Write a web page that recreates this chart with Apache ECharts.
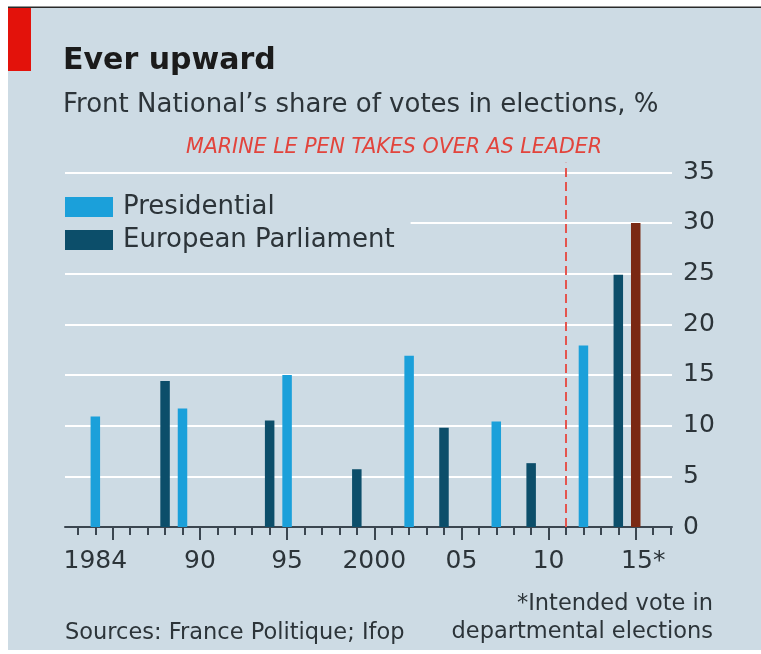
<!DOCTYPE html>
<html><head><meta charset="utf-8">
<script src="https://cdn.jsdelivr.net/npm/echarts@6/dist/echarts.min.js"></script>
<style>html,body{margin:0;padding:0;background:#fff}#c{width:761px;height:654px}</style>
</head><body><div id="c"></div>
<script>
// ---- data ----
const presYears = [1984, 1989, 1995, 2002, 2007, 2012];
const presValues = [10.9, 11.7, 15.0, 16.9, 10.4, 17.9];
const euroYears = [1988, 1994, 1999, 2004, 2009, 2014];
const euroValues = [14.4, 10.5, 5.7, 9.8, 6.3, 24.9];
const deptYears = [2015];
const deptValues = [30.0];
const leaderYear = 2011;
const yTicks = [0, 5, 10, 15, 20, 25, 30, 35];
const xLabelYears = [1984, 1990, 1995, 2000, 2005, 2010, 2015];
const xLabelText = ['1984', '90', '95', '2000', '05', '10', '15*'];
const minorTickYears = [1983,1984,1985,1986,1987,1988,1989,1990,1991,1992,1993,1994,1995,1996,1997,1998,1999,2000,2001,2002,2003,2004,2005,2006,2007,2008,2009,2010,2011,2012,2013,2014,2015,2016,2017];
const majorTickYears = [1985, 1990, 1995, 2000, 2005, 2010, 2015];

// ---- styles ----
const FONT = 'DejaVu Sans';
const BG = '#cddbe4';
const LIGHT = '#1ba0da';
const DARK = '#0c4e6a';
const BROWN = '#7a2914';
const AX = '#3b4650';
const TXT = '#2c3439';

const pair = (xs, vs) => xs.map((x, i) => [x, vs[i]]);

const chart = echarts.init(document.getElementById('c'), null, {renderer: 'canvas'});
chart.setOption({
  animation: false,
  backgroundColor: '#ffffff',
  textStyle: {fontFamily: FONT},
  grid: {left: 65, right: 89, top: 162.7, bottom: 127},
  xAxis: [{
    type: 'value', min: 1982.26, max: 2017.08,
    axisLine: {show: true, onZero: false, lineStyle: {color: AX, width: 2}},
    axisTick: {show: true, customValues: minorTickYears, length: 8, lineStyle: {color: AX, width: 2}},
    axisLabel: {
      show: true, customValues: xLabelYears, margin: 22, fontSize: 25, color: TXT, fontFamily: FONT,
      formatter: function (v) {
        const i = xLabelYears.indexOf(Math.round(v));
        const t = i >= 0 ? xLabelText[i] : '';
        return t.indexOf('*') >= 0 ? '{p|}' + t : t;
      },
      rich: {p: {width: 15}}
    },
    splitLine: {show: false}
  }, {
    type: 'value', min: 1982.26, max: 2017.08, position: 'bottom', gridIndex: 0,
    axisLine: {show: false, onZero: false},
    axisTick: {show: true, customValues: majorTickYears, length: 13, lineStyle: {color: AX, width: 2}},
    axisLabel: {show: false},
    splitLine: {show: false}
  }],
  yAxis: {
    type: 'value', position: 'right', min: 0, max: 35.95, interval: 5,
    axisLine: {show: false}, axisTick: {show: false},
    axisLabel: {customValues: yTicks, margin: 11, fontSize: 25, color: TXT, fontFamily: FONT},
    splitLine: {show: true, showMinLine: false, showMaxLine: false, lineStyle: {color: '#ffffff', width: 2}}
  },
  legend: {
    show: true, data: ['Presidential', 'European Parliament'], orient: 'vertical',
    left: 60, top: 190, padding: [4, 16, 4, 5], itemWidth: 48, itemHeight: 20, itemGap: 7,
    backgroundColor: BG, icon: 'rect', selectedMode: false,
    textStyle: {fontSize: 26, color: TXT, fontFamily: FONT, padding: [0, 0, 0, 5]}
  },
  series: [
    {name: 'Presidential', type: 'bar', data: pair(presYears, presValues), barWidth: 9.5, barGap: '-100%',
     itemStyle: {color: LIGHT}, silent: true},
    {name: 'European Parliament', type: 'bar', data: pair(euroYears, euroValues), barWidth: 9.5, barGap: '-100%',
     itemStyle: {color: DARK}, silent: true,
     markLine: {silent: true, symbol: ['none', 'none'], label: {show: false},
       lineStyle: {color: '#e4554e', type: [9, 5], width: 2}, data: [{xAxis: leaderYear}]}},
    {name: 'Departmental', type: 'bar', data: pair(deptYears, deptValues), barWidth: 9.5, barGap: '-100%',
     itemStyle: {color: BROWN}, silent: true}
  ],
  graphic: [
    {type: 'rect', z: -10, silent: true, shape: {x: 8, y: 8, width: 753, height: 642}, style: {fill: BG}},
    {type: 'rect', z: -9, silent: true, shape: {x: 8, y: 6.5, width: 753, height: 1.5}, style: {fill: '#2a2a2a'}},
    {type: 'rect', z: -8, silent: true, shape: {x: 8, y: 8, width: 23, height: 63}, style: {fill: '#e3120b'}},
    {type: 'text', silent: true, x: 63, y: 61.5,
     style: {text: 'Ever upward', font: 'bold 30px "DejaVu Sans"', fill: '#1b1b1b', align: 'left', verticalAlign: 'middle'}},
    {type: 'text', silent: true, x: 63, y: 105,
     style: {text: 'Front National\u2019s share of votes in elections, %', font: '26px "DejaVu Sans"', fill: TXT, align: 'left', verticalAlign: 'middle'}},
    {type: 'text', silent: true, x: 394, y: 147.5,
     style: {text: 'MARINE LE PEN TAKES OVER AS LEADER', font: 'italic 20.6px "DejaVu Sans"', fill: '#e2443c', align: 'center', verticalAlign: 'middle'}},
    {type: 'text', silent: true, x: 65, y: 633,
     style: {text: 'Sources: France Politique; Ifop', font: '22.5px "DejaVu Sans"', fill: TXT, align: 'left', verticalAlign: 'middle'}},
    {type: 'text', silent: true, x: 713, y: 604,
     style: {text: '*Intended vote in', font: '22.5px "DejaVu Sans"', fill: TXT, align: 'right', verticalAlign: 'middle'}},
    {type: 'text', silent: true, x: 713, y: 632,
     style: {text: 'departmental elections', font: '22.5px "DejaVu Sans"', fill: TXT, align: 'right', verticalAlign: 'middle'}}
  ]
});
</script>
</body></html>
